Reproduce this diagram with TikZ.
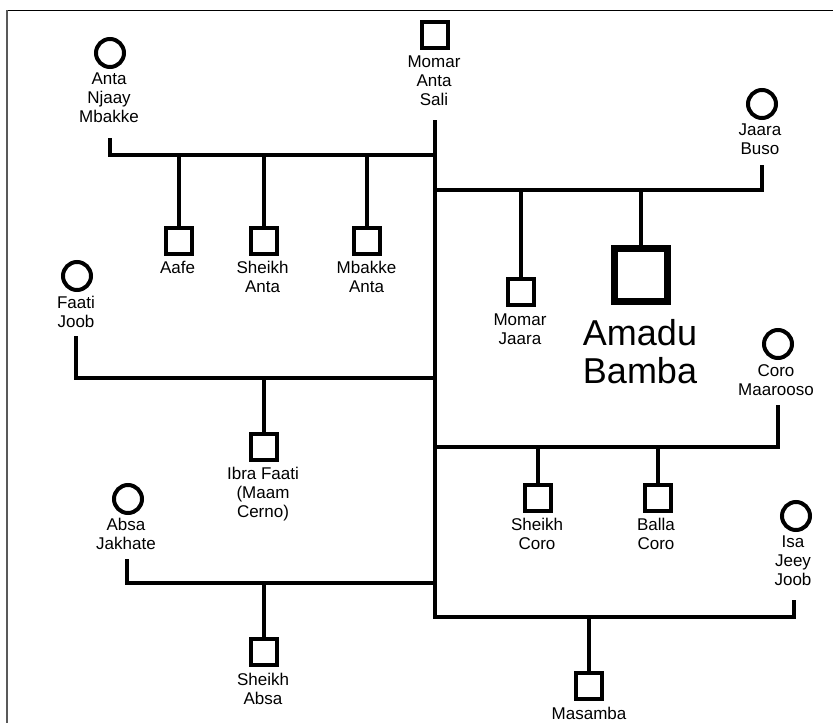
\documentclass[tikz,border=0pt]{standalone}
\usepackage{fontspec}
\setmainfont{Liberation Sans}
\begin{document}
\begin{tikzpicture}[x=1pt,y=-1pt,
  male/.style={draw,line width=4pt,rectangle,minimum size=26pt,inner sep=0pt},
  ego/.style={draw,line width=7pt,rectangle,minimum size=53pt,inner sep=0pt},
  female/.style={draw,line width=4pt,circle,minimum size=28pt,inner sep=0pt},
  lbl/.style={anchor=north,align=center,inner sep=0pt,font=\fontsize{17}{19}\selectfont},
  biglbl/.style={anchor=north,align=center,inner sep=0pt,font=\fontsize{36}{38}\selectfont},
  link/.style={line width=4pt,line cap=rect,line join=miter}]
\useasboundingbox (0,0) rectangle (833,723);
% frame
\draw[black,line width=1pt] (7,10.5) -- (833,10.5);
\draw[black!65,line width=1.5pt] (7,10) -- (7,723);

% people
\node[male] (mas) at (435,35) {};
\node[lbl] (masL) at (434,56) {Momar\\Anta\\Sali};
\node[female] (anj) at (110,53) {};
\node[lbl] (anjL) at (109,72.7) {Anta\\Njaay\\Mbakke};
\node[male] (aafe) at (179,241) {};
\node[lbl] (aafeL) at (177.5,261) {Aafe};
\node[male] (sha) at (264,241) {};
\node[lbl] (shaL) at (262.5,261) {Sheikh\\Anta};
\node[male] (mba) at (367,241) {};
\node[lbl] (mbaL) at (366.5,261) {Mbakke\\Anta};
\node[female] (jb) at (762,104) {};
\node[lbl] (jbL) at (760,124) {Jaara\\Buso};
\node[male] (mj) at (521,292) {};
\node[lbl] (mjL) at (520,314) {Momar\\Jaara};
\node[ego] (ab) at (641,275) {};
\node[biglbl] (abL) at (640,319.3) {Amadu\\Bamba};
\node[female] (fj) at (77,276) {};
\node[lbl] (fjL) at (76,296) {Faati\\Joob};
\node[male] (ibra) at (264,447) {};
\node[lbl] (ibraL) at (263,466.7) {Ibra Faati\\(Maam\\Cerno)};
\node[female] (cm) at (778,344) {};
\node[lbl] (cmL) at (776,364.3) {Coro\\Maarooso};
\node[male] (sc) at (538,498) {};
\node[lbl] (scL) at (537,518.3) {Sheikh\\Coro};
\node[male] (bc) at (658,498) {};
\node[lbl] (bcL) at (656,518.3) {Balla\\Coro};
\node[female] (aj) at (128,499) {};
\node[lbl] (ajL) at (126,518) {Absa\\Jakhate};
\node[male] (sab) at (264,652) {};
\node[lbl] (sabL) at (263,672.7) {Sheikh\\Absa};
\node[female] (ijj) at (796,516) {};
\node[lbl] (ijjL) at (793,536) {Isa\\Jeey\\Joob};
\node[male] (msb) at (589,686) {};
\node[lbl] (msbL) at (589,706.7) {Masamba};

% connector anchors
\coordinate (masS) at (435,122);
\coordinate (masE) at (435,617);
\coordinate (cAN) at (435,155);
\coordinate (cJB) at (435,190);
\coordinate (cFJ) at (435,378);
\coordinate (cCM) at (435,447);
\coordinate (cAJ) at (435,583);
\coordinate (anjS) at (110,140);
\coordinate (jbS) at (762,167);
\coordinate (fjS) at (76,338);
\coordinate (cmS) at (778,407);
\coordinate (ajS) at (127,561);
\coordinate (ijjS) at (794,602);

% connectors
\draw[link] (masS) -- (masE);
\draw[link] (anjS) |- (cAN);
\draw[link] (aafe.north) -- (aafe.north |- cAN);
\draw[link] (sha.north) -- (sha.north |- cAN);
\draw[link] (mba.north) -- (mba.north |- cAN);
\draw[link] (jbS) |- (cJB);
\draw[link] (mj.north) -- (mj.north |- cJB);
\draw[link] (ab.north) -- (ab.north |- cJB);
\draw[link] (fjS) |- (cFJ);
\draw[link] (ibra.north) -- (ibra.north |- cFJ);
\draw[link] (cmS) |- (cCM);
\draw[link] (sc.north) -- (sc.north |- cCM);
\draw[link] (bc.north) -- (bc.north |- cCM);
\draw[link] (ajS) |- (cAJ);
\draw[link] (sab.north) -- (sab.north |- cAJ);
\draw[link] (ijjS) |- (masE);
\draw[link] (msb.north) -- (msb.north |- masE);
\end{tikzpicture}
\end{document}
